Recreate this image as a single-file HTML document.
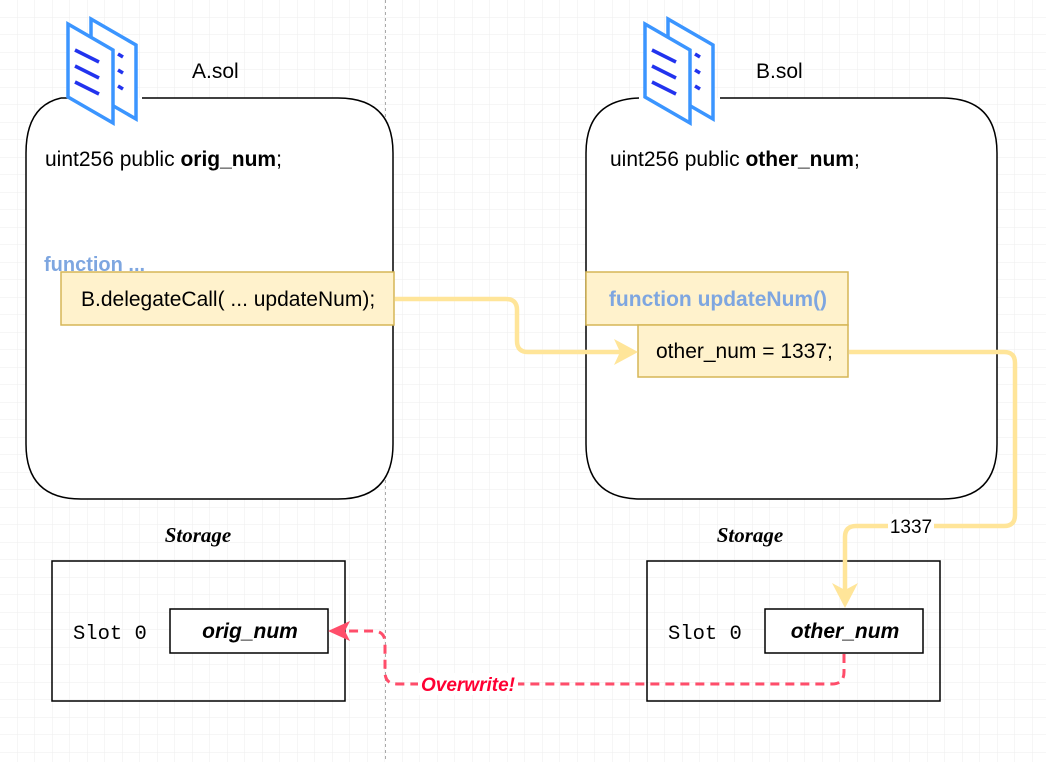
<!DOCTYPE html>
<html><head><meta charset="utf-8"><style>
html,body{margin:0;padding:0;background:#fff}
svg{display:block}
text{font-family:"Liberation Sans",sans-serif}
</style></head><body>
<svg width="1046" height="762" viewBox="0 0 1046 762" xmlns="http://www.w3.org/2000/svg">
<defs>
<pattern id="g" width="17.5" height="17.5" patternUnits="userSpaceOnUse" x="0" y="0">
<path d="M17.5 0V17.5M0 17.5H17.5" stroke="#ededed" stroke-width="1" fill="none"/>
</pattern>
<g id="doc">
<path d="M91 19 L136 45 L136 119 L91 93 Z" fill="#fff" stroke="#3b95ff" stroke-width="3.5"/>
<path d="M68 24 L113 50 L113 123 L68 97 Z" fill="#fff" stroke="#3b95ff" stroke-width="3.5"/>
<path d="M75 50 L99 62 M75 66 L99 78 M75 82 L99 94" stroke="#2233ee" stroke-width="3.5"/>
<path d="M118 54 L123 57 M118 70 L123 73 M118 86 L123 89" stroke="#2233ee" stroke-width="3.5"/>
</g>
</defs>
<rect width="1046" height="762" fill="url(#g)"/>
<line x1="385.5" y1="0" x2="385.5" y2="762" stroke="#aaa" stroke-dasharray="3 3"/>

<!-- A container -->
<path d="M81 98 H338 Q393 98 393 153 V444 Q393 499 338 499 H81 Q26 499 26 444 V153 Q26 98 81 98Z" fill="#fff" stroke="none"/>
<path d="M61 98 H97 M142 98 H338 Q393 98 393 153 V444 Q393 499 338 499 H81 Q26 499 26 444 V153 Q26 106 61 98" fill="none" stroke="#000" stroke-width="1.5"/>
<use href="#doc"/>
<text x="192" y="78" font-size="21">A.sol</text>
<text x="45" y="166" font-size="21">uint256 public <tspan font-weight="bold">orig_num</tspan>;</text>
<text x="44" y="271" font-size="20" font-weight="bold" fill="#7ea6e0">function ...</text>
<rect x="61" y="272" width="333" height="53" fill="#fff2cc" stroke="#d6b656" stroke-width="1.5"/>
<text x="81" y="306" font-size="21">B.delegateCall( ... updateNum);</text>

<!-- B container -->
<path d="M641 98 H942 Q997 98 997 153 V444 Q997 499 942 499 H641 Q586 499 586 444 V153 Q586 98 641 98Z" fill="#fff" stroke="none"/>
<path d="M639 98 Q586 100 586 153 V444 Q586 499 641 499 H942 Q997 499 997 444 V153 Q997 98 942 98 H720" fill="none" stroke="#000" stroke-width="1.5"/>
<use href="#doc" transform="translate(577,0)"/>
<text x="756" y="78" font-size="21">B.sol</text>
<text x="610" y="166" font-size="21">uint256 public <tspan font-weight="bold">other_num</tspan>;</text>
<rect x="586" y="272" width="262" height="53" fill="#fff2cc" stroke="#d6b656" stroke-width="1.5"/>
<text x="718" y="306" font-size="21" font-weight="bold" fill="#7ea6e0" text-anchor="middle">function updateNum()</text>
<rect x="638" y="325" width="210" height="52" fill="#fff2cc" stroke="#d6b656" stroke-width="1.5"/>
<text x="656" y="358" font-size="21">other_num = 1337;</text>

<!-- storage -->
<text x="198" y="542" font-size="21" font-weight="bold" font-style="italic" text-anchor="middle" style="font-family:'Liberation Serif',serif">Storage</text>
<rect x="52" y="561" width="293" height="140" fill="none" stroke="#000" stroke-width="1.5"/>
<text x="73" y="639" font-size="20.5" style="font-family:'Liberation Mono',monospace">Slot 0</text>
<rect x="170" y="609" width="158" height="44" fill="#fff" stroke="#000" stroke-width="1.5"/>
<text x="250" y="638" font-size="21" font-weight="bold" font-style="italic" text-anchor="middle">orig_num</text>

<text x="750" y="542" font-size="21" font-weight="bold" font-style="italic" text-anchor="middle" style="font-family:'Liberation Serif',serif">Storage</text>
<rect x="647" y="561" width="293" height="140" fill="none" stroke="#000" stroke-width="1.5"/>
<text x="668" y="639" font-size="20.5" style="font-family:'Liberation Mono',monospace">Slot 0</text>
<rect x="765" y="609" width="158" height="44" fill="#fff" stroke="#000" stroke-width="1.5"/>
<text x="845" y="638" font-size="21" font-weight="bold" font-style="italic" text-anchor="middle">other_num</text>

<!-- yellow arrows -->
<path d="M395 299 H506 Q517 299 517 310 V341 Q517 352 528 352 H620" fill="none" stroke="#ffe599" stroke-width="4.5"/>
<path d="M614 339 L638 352 L614 365 L620 352 Z" fill="#ffe599"/>
<path d="M849 352 H1004 Q1015 352 1015 363 V515 Q1015 526 1004 526 H856 Q845 526 845 537 V590" fill="none" stroke="#ffe599" stroke-width="4.5"/>
<path d="M832 583 L845 608 L858 583 L845 590 Z" fill="#ffe599"/>
<rect x="888" y="514" width="46" height="24" fill="#fff"/>
<text x="911" y="533" font-size="19" text-anchor="middle">1337</text>

<!-- red dashed -->
<path d="M844 654 V672 Q844 684 832 684 H397 Q385 684 385 672 V643 Q385 631 373 631 H348" fill="none" stroke="#ff4d6a" stroke-width="3" stroke-dasharray="9 6"/>
<path d="M328 631 L350 621 L345 631 L350 641 Z" fill="#ff4d6a"/>
<rect x="418" y="673" width="100" height="22" fill="#fff"/>
<text x="468" y="691" font-size="19" font-weight="bold" font-style="italic" fill="#ff0033" text-anchor="middle">Overwrite!</text>
</svg>
</body></html>
